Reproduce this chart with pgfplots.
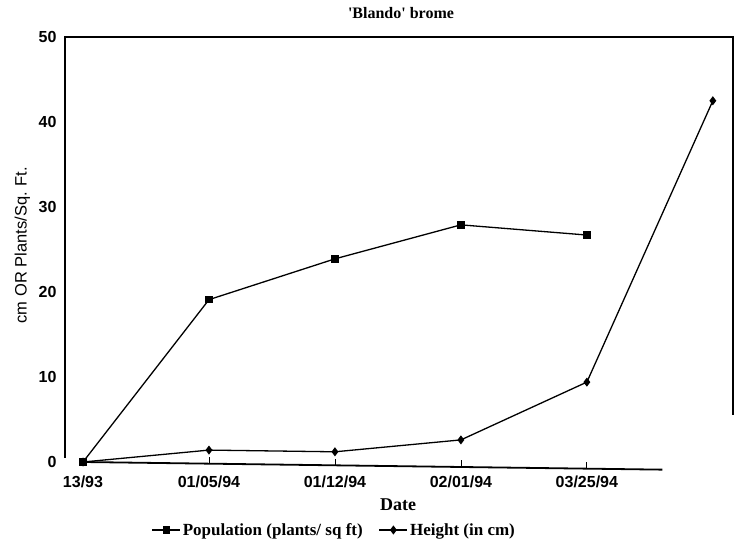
\documentclass[border=0pt]{standalone}
\usepackage{pgfplots}
\pgfplotsset{compat=1.18}
\usepackage{fontspec}
\setmainfont{Liberation Serif}
\setsansfont{Liberation Sans}

\begin{document}
\begin{tikzpicture}
\begin{axis}[
  at={(0,0)}, anchor=south west,
  scale only axis,
  width=668pt, height=433.5pt,
  xmin=-0.143, xmax=5.16,
  ymin=-1, ymax=50,
  axis line style={draw=none},
  xtick={0,1,2,3,4},
  xticklabels={13/93,01/05/94,01/12/94,02/01/94,\raisebox{-5pt}{03/25/94}},
  ytick={0,10,...,50},
  /pgf/number format/assume math mode=true,
  tick label style={font=\sffamily\bfseries\fontsize{16}{18}\selectfont},
  yticklabel style={xshift=-5pt},
  xticklabel style={yshift=-2pt},
  ytick style={draw=none},
  xtick style={draw=none},
  title={\textquotesingle Blando\textquotesingle\ brome},
  title style={font=\bfseries\fontsize{16}{18}\selectfont, at={(axis description cs:0.503,1)}, anchor=base, yshift=12pt},
  xlabel={Date},
  xlabel style={font=\bfseries\fontsize{18}{20}\selectfont, at={(axis description cs:0.4985,0)}, anchor=base, yshift=-39.5pt},
  ylabel={cm OR Plants/Sq. Ft.},
  ylabel style={font=\sffamily\fontsize{16.5}{18}\selectfont, at={(axis description cs:-0.064,0.52)}, anchor=center},
  legend columns=2,
  legend style={draw=none, fill=none, at={(axis description cs:0.403,0)}, anchor=center, yshift=-59.5pt,
    font=\bfseries\fontsize{17}{19}\selectfont, inner sep=0pt,
    /tikz/every even column/.append style={column sep=14pt}},
  legend image code/.code={
    \draw[mark repeat=2, mark phase=2, line width=1.3pt] plot coordinates {(0pt,0pt) (14pt,0pt) (28pt,0pt)};
  },
  clip=false,
]
\addplot[black, line width=1.3pt, mark=square*, mark size=3pt]
  coordinates {(0,0) (1,19.1) (2,23.9) (3,27.9) (4,26.7)};
\addlegendentry{Population (plants/ sq ft)}
\addplot[black, line width=1.3pt, mark=diamond*, mark size=3.5pt]
  coordinates {(0,0) (1,1.4) (2,1.2) (3,2.6) (4,9.4) (5,42.5)};
\addlegendentry{Height (in cm)}

% frame as in the scan: open at the lower right, slanted base line
\draw[line width=1.8pt] (axis cs:-0.143,0.5) -- (axis cs:-0.143,50) -- (axis cs:5.16,50) -- (axis cs:5.16,5.5);
\draw[line width=1.8pt] (axis cs:0,0) -- (axis cs:4.6,-0.9);
\draw[line width=0.8pt] (axis cs:1,-0.2) -- (axis cs:1,0.6);
\draw[line width=0.8pt] (axis cs:2,-0.4) -- (axis cs:2,0.4);
\draw[line width=0.8pt] (axis cs:3,-0.6) -- (axis cs:3,0.2);
\draw[line width=0.8pt] (axis cs:4,-0.8) -- (axis cs:4,0.0);
\end{axis}
\useasboundingbox (-65pt,-75.5pt) rectangle (674pt,470.5pt);
\end{tikzpicture}
\end{document}
